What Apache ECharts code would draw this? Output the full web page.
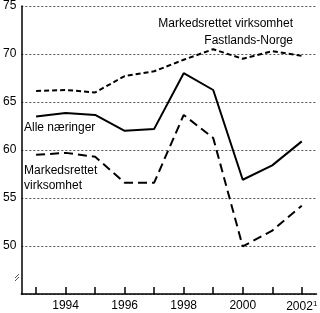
<!DOCTYPE html>
<html><head><meta charset="utf-8">
<script src="https://cdn.jsdelivr.net/npm/echarts@6/dist/echarts.min.js"></script>
<style>html,body{margin:0;padding:0;background:#fff}#c{width:320px;height:313px}</style>
</head><body><div id="c"></div>
<script>
var years = ['1993','1994','1995','1996','1997','1998','1999','2000','2001','2002'];
var fastlandsNorge = [66.15, 66.25, 66.0, 67.7, 68.2, 69.4, 70.5, 69.5, 70.3, 69.8];
var alleNaeringer = [63.5, 63.85, 63.65, 62.0, 62.2, 68.0, 66.25, 56.9, 58.4, 60.9];
var markedsrettet = [59.5, 59.7, 59.3, 56.6, 56.6, 63.65, 61.25, 49.95, 51.6, 54.2];
var yTicks = [50, 55, 60, 65, 70, 75];

var FONT = '"Liberation Sans", Arial, sans-serif';
var chart = echarts.init(document.getElementById('c'), null, {renderer: 'canvas'});
function lbl(text, x, y, align) {
  return {type: 'text', left: align === 'right' ? null : x, right: align === 'right' ? x : null, top: y,
    style: {text: text, font: '12px ' + FONT, fill: '#000', textAlign: align || 'left'}};
}
chart.setOption({
  animation: false,
  grid: {left: 18, right: 0, top: 6, bottom: 19, containLabel: false},
  xAxis: {
    type: 'category', data: years, boundaryGap: true,
    axisLine: {lineStyle: {color: '#000', width: 1.5}},
    axisTick: {show: true, inside: true, length: 7, alignWithLabel: true, interval: 0, lineStyle: {color: '#000', width: 1.5}},
    axisLabel: {
      interval: 0, margin: 6, color: '#000', fontFamily: FONT, fontSize: 12,
      formatter: function (v) {
        var n = parseInt(v, 10);
        if (n % 2 === 1) return '';
        return n === 2002 ? v + '{s|1}' : v;
      },
      rich: {s: {fontSize: 8, verticalAlign: 'top', fontFamily: FONT, color: '#000', padding: [0, 0, 6, 0]}}
    },
    splitLine: {show: false}
  },
  yAxis: {
    type: 'value', min: 45, max: 75, interval: 5,
    axisLine: {show: true, lineStyle: {color: '#000', width: 1.5}},
    axisTick: {show: false},
    axisLabel: {margin: 5, color: '#000', fontFamily: FONT, fontSize: 12,
      formatter: function (v) { return yTicks.indexOf(v) >= 0 ? String(v) : ''; }},
    splitLine: {show: true, lineStyle: {color: '#555', width: 1, type: [2, 2]}}
  },
  series: [
    {type: 'line', name: 'Markedsrettet virksomhet Fastlands-Norge', data: fastlandsNorge, symbol: 'none',
      lineStyle: {color: '#000', width: 2, type: [5, 3]}},
    {type: 'line', name: 'Alle næringer', data: alleNaeringer, symbol: 'none',
      lineStyle: {color: '#000', width: 2}},
    {type: 'line', name: 'Markedsrettet virksomhet', data: markedsrettet, symbol: 'none',
      lineStyle: {color: '#000', width: 2, type: [9, 5]}}
  ],
  graphic: [
    {type: 'text', right: 27, top: 18, style: {text: 'Markedsrettet virksomhet', font: '12px ' + FONT, fill: '#000'}},
    {type: 'text', right: 27, top: 35, style: {text: 'Fastlands-Norge', font: '12px ' + FONT, fill: '#000'}},
    {type: 'text', left: 24, top: 122, style: {text: 'Alle næringer', font: '12px ' + FONT, fill: '#000'}},
    {type: 'text', left: 24, top: 165, style: {text: 'Markedsrettet', font: '12px ' + FONT, fill: '#000'}},
    {type: 'text', left: 24, top: 180, style: {text: 'virksomhet', font: '12px ' + FONT, fill: '#000'}},
    {type: 'line', shape: {x1: 15, y1: 278, x2: 19, y2: 274}, style: {stroke: '#555', lineWidth: 1}},
    {type: 'line', shape: {x1: 15, y1: 281, x2: 19, y2: 277}, style: {stroke: '#555', lineWidth: 1}}
  ]
});
</script></body></html>
